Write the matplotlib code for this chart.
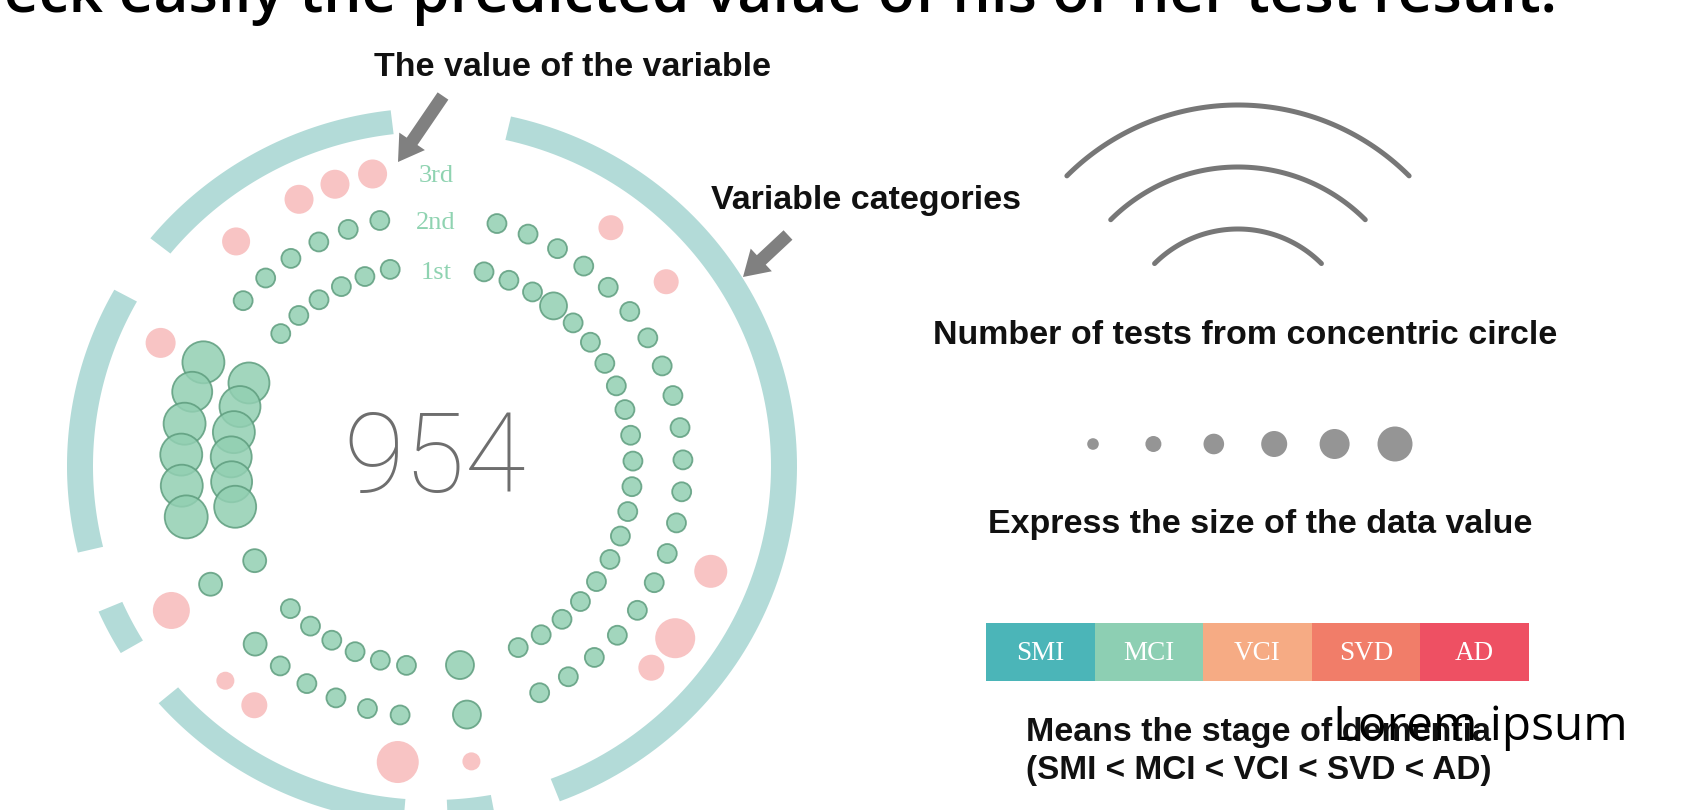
import numpy as np
import matplotlib
matplotlib.use('Agg')
import matplotlib.pyplot as plt
from matplotlib.patches import Circle, Polygon, FancyArrow, Rectangle

# ---------------- data ----------------
total_score = '954'
ring_labels = ['1st', '2nd', '3rd']

# category arcs on the outer ring (degrees, counter-clockwise from east)
category_start = [96.5, 150.5, 204.0, 221.5, 272.5, -69.5]
category_end = [140.5, 194.0, 211.5, 265.5, 280.0, 77.5]

# variable positions (degrees) shared by the 1st and 2nd test
slot_angle = [102.0, 109.5, 116.8, 124.2, 131.5, 138.8,
              155.6, 162.8, 170.3, 177.4, 184.5, 191.7,
              208.1,
              225.2, 232.8, 240.1, 247.5, 255.1, 262.7,
              278.0,
              75.0, 67.5, 60.0, 52.8, 45.4, 38.0, 30.7, 23.5, 16.3, 8.8,
              1.4, -5.9, -13.1, -20.4, -27.7, -35.1, -42.4, -49.7, -57.1, -64.6]
test1_value = [9.5, 9.5, 9.5, 9.5, 9.5, 9.5,
               20.5, 20.5, 21.0, 20.5, 20.5, 21.0,
               11.5,
               9.5, 9.5, 9.5, 9.5, 9.5, 9.5,
               14.0,
               9.5, 9.5, 9.5, 13.5, 9.5, 9.5, 9.5, 9.5, 9.5, 9.5,
               9.5, 9.5, 9.5, 9.5, 9.5, 9.5, 9.5, 9.5, 9.5, 9.5]
test2_value = [9.5, 9.5, 9.5, 9.5, 9.5, 9.5,
               21.0, 20.0, 21.0, 21.0, 21.0, 21.5,
               11.5,
               11.5, 9.5, 9.5, 9.5, 9.5, 9.5,
               14.0,
               9.5, 9.5, 9.5, 9.5, 9.5, 9.5, 9.5, 9.5, 9.5, 9.5,
               9.5, 9.5, 9.5, 9.5, 9.5, 9.5, 9.5, 9.5, 9.5, 9.5]
# 3rd test only exists for some variables
test3_angle = [101.5, 109.0, 116.5, 131.1, 155.6, 53.1, 38.2, -20.7, -35.3, -42.6,
               209.0, 226.1, 233.4, 263.4, 277.6]
test3_value = [14.5, 14.5, 14.5, 14.0, 15.0, 12.5, 12.5, 16.5, 20.0, 13.0,
               18.5, 9.0, 13.0, 21.0, 9.0]

legend_sizes = [5.8, 8.0, 10.3, 13.0, 15.0, 17.5]
stage_names = ['SMI', 'MCI', 'VCI', 'SVD', 'AD']
stage_colors = ['#4bb5b8', '#8dcfb3', '#f6ab84', '#f17d69', '#ee5063']

# ---------------- layout ----------------
CX, CY = 432, 466
ring_radius = [201, 251, 298]
GREEN, GREEN_EDGE = '#92cfb2', '#5e9d7e'
PINK = '#f8c4c4'
BAND = '#b3dbd8'
ARROW = '#808080'

fig = plt.figure(figsize=(16.84, 8.10), dpi=100)
ax = fig.add_axes([0, 0, 1, 1])
ax.set_xlim(0, 1684)
ax.set_ylim(810, 0)
ax.axis('off')


def polar(r, deg):
    t = np.radians(deg)
    return CX + r * np.cos(t), CY - r * np.sin(t)


# outer category band (slightly elliptic, like the source image)
for a0, a1 in zip(category_start, category_end):
    t = np.radians(np.linspace(a0, a1, 120))
    xo, yo = CX + 365 * np.cos(t), CY - 358 * np.sin(t)
    xi, yi = CX + 339 * np.cos(t[::-1]), CY - 334 * np.sin(t[::-1])
    pts = np.column_stack([np.r_[xo, xi], np.r_[yo, yi]])
    ax.add_patch(Polygon(pts, closed=True, facecolor=BAND, edgecolor='none', zorder=1))

# 1st and 2nd tests (green), 3rd test (pink)
for r, values in [(ring_radius[0], test1_value), (ring_radius[1], test2_value)]:
    for ang, v in zip(slot_angle, values):
        x, y = polar(r, ang)
        ax.add_patch(Circle((x, y), v, facecolor=GREEN, edgecolor=GREEN_EDGE,
                            lw=1.3, alpha=0.85, zorder=3))
for ang, v in zip(test3_angle, test3_value):
    x, y = polar(ring_radius[2], ang)
    ax.add_patch(Circle((x, y), v, facecolor=PINK, edgecolor='none', zorder=3))

for lab, r in zip(ring_labels, ring_radius):
    ax.text(CX + 4, CY - r + 8, lab, ha='center', va='center', fontsize=19,
            family='Liberation Serif', color='#8fd3b1', zorder=4)

ax.text(CX + 3, 492, total_score, ha='center', va='baseline', fontsize=80,
        family=['Roboto', 'DejaVu Sans'], fontweight='light', color='#6e6e6e')

# annotation arrows
ax.add_patch(FancyArrow(443, 96, -45, 66, width=13, head_width=31, head_length=25,
                        length_includes_head=True, color=ARROW, lw=0, zorder=5))
ax.add_patch(FancyArrow(788, 235, -45, 42, width=13, head_width=31, head_length=25,
                        length_includes_head=True, color=ARROW, lw=0, zorder=5))

bold = dict(family='Liberation Sans', fontweight='bold', color='#111111', fontsize=24.5)
ax.text(573, 67, 'The value of the variable', ha='center', va='center', **bold)
ax.text(866, 201, 'Variable categories', ha='center', va='center', **bold)
ax.text(1245, 336, 'Number of tests from concentric circle', ha='center', va='center', **bold)
ax.text(1260, 524, 'Express the size of the data value', ha='center', va='center', **bold)
ax.text(1026, 733, 'Means the stage of dementia', ha='left', va='center', **bold)
ax.text(1026, 770, '(SMI < MCI < VCI < SVD < AD)', ha='left', va='center',
        **{**bold, 'fontsize': 24})

# concentric circle legend
for r in [118, 180, 242]:
    t = np.radians(np.linspace(45, 135, 100))
    ax.plot(1238 + r * np.cos(t), 347 - r * np.sin(t), color='#777777', lw=3.6,
            solid_capstyle='round')

# size legend
for i, s in enumerate(legend_sizes):
    ax.add_patch(Circle((1093 + i * 60.4, 444), s, facecolor='#959595', edgecolor='none'))

# stage colour bar
w = 108.6
for i, (name, c) in enumerate(zip(stage_names, stage_colors)):
    ax.add_patch(Rectangle((986 + i * w, 623), w, 58, facecolor=c, edgecolor='none'))
    ax.text(986 + i * w + w / 2, 653, name, ha='center', va='center', color='white',
            fontsize=19.5, family='Liberation Serif')

# slide texts
ax.text(1557, 12, 'You can check easily the predicted value of his or her test result.',
        ha='right', va='baseline', fontsize=43.5, family='Open Sans', fontweight='semibold',
        color='black')
ax.text(1333, 740, 'Lorem ipsum', ha='left', va='baseline', fontsize=34.5,
        family='Open Sans', color='black', zorder=6)

fig.savefig('out.png', dpi=100)
